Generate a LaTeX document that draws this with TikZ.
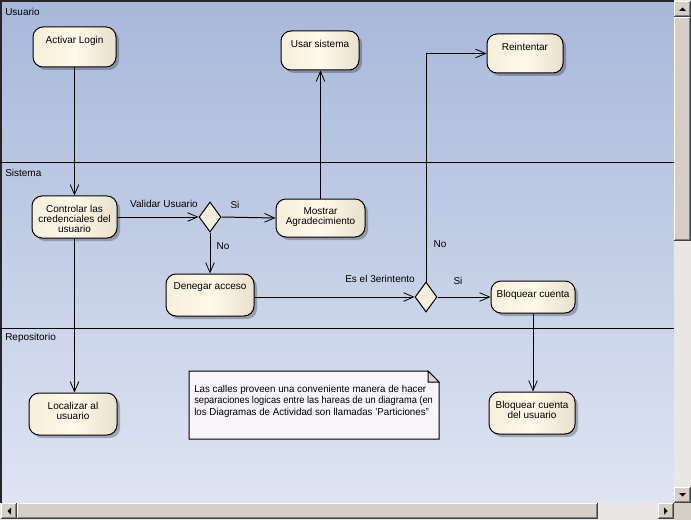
\documentclass[tikz,border=0pt]{standalone}
\usepackage{fontspec}
\setmainfont{Liberation Sans}
\usetikzlibrary{arrows.meta,shapes.geometric,shadows,fit}
\definecolor{bgtop}{HTML}{A8B8DA}
\definecolor{bgbot}{HTML}{DEE4F2}
\definecolor{actL}{HTML}{F7EFDB}
\definecolor{actM}{HTML}{FFF9EB}
\definecolor{actR}{HTML}{E9E0CC}
\definecolor{decf}{HTML}{F4EEDF}
\definecolor{notef}{HTML}{F7F5FA}
\definecolor{foldf}{HTML}{D9D6DC}
\definecolor{sbgray}{HTML}{D4D0C8}
\definecolor{sbhatch}{HTML}{E9E7E3}
\definecolor{sbdark}{HTML}{404040}
\definecolor{sbmid}{HTML}{808080}
\tikzset{
 act/.style={draw=black, line width=0.75pt, rounded corners=7.5pt, left color=actL, right color=actR, middle color=actM, inner sep=0pt,
   drop shadow={shadow xshift=2.25pt, shadow yshift=-2.25pt, fill=black, opacity=0.25}},
 acttext/.style={anchor=north, inner sep=0pt, align=center, font=\fontsize{7.5}{7.6}\selectfont},
 dec/.style={diamond, draw=black, line width=0.75pt, fill=decf, inner sep=0pt, minimum width=16.5pt, minimum height=22.5pt},
 flow/.style={draw=black, line width=0.75pt, -{Straight Barb[length=7.5pt,width=6.5pt,line width=0.6pt]}},
 lbl/.style={inner sep=0pt, font=\fontsize{7.5}{8}\selectfont},
 lane/.style={draw=black, line width=0.75pt},
}
\begin{document}
\begin{tikzpicture}[x=0.75pt,y=-0.75pt]
\useasboundingbox (0,0) rectangle (691,520);
% background
\shade[top color=bgtop, bottom color=bgbot] (0,0) rectangle (674,503);
\draw[line width=1.1pt, draw=black!85] (1,503) -- (1,1) -- (674,1);
% lanes
\draw[lane] (0,162.5) -- (674,162.5);
\draw[lane] (0,328) -- (674,328);
\node[lbl, anchor=west] (lu) at (5,12) {Usuario};
\node[lbl, anchor=west] (ls) at (5,173) {Sistema};
\node[lbl, anchor=west] (lr) at (5,338) {Repositorio};
% activities
\node[act, fit={(33,27) (116,67)}] (A) {};
\node[act, fit={(32,196) (117,238)}] (C) {};
\node[act, fit={(281,31) (359,70)}] (U) {};
\node[act, fit={(276,199) (365,237)}] (M) {};
\node[act, fit={(487,34) (563,73)}] (R) {};
\node[act, fit={(166,274) (254,316)}] (D) {};
\node[act, fit={(491,281) (575,313)}] (B) {};
\node[act, fit={(489,392) (575,434)}] (BU) {};
\node[act, fit={(29,393) (117,435)}] (L) {};
\node[acttext] (At) at ([yshift=-6.75pt]A.north) {Activar Login};
\node[acttext] (Ct) at ([yshift=-6.75pt]C.north) {Controlar las\\credenciales del\\usuario};
\node[acttext] (Ut) at ([yshift=-6.75pt]U.north) {Usar sistema};
\node[acttext] (Mt) at ([yshift=-6.75pt]M.north) {Mostrar\\Agradecimiento};
\node[acttext] (Rt) at ([yshift=-6.75pt]R.north) {Reintentar};
\node[acttext] (Dt) at ([yshift=-6.75pt]D.north) {Denegar acceso};
\node[acttext] (Bt) at ([yshift=-6.75pt]B.north) {Bloquear cuenta};
\node[acttext] (BUt) at ([yshift=-6.75pt]BU.north) {Bloquear cuenta\\del usuario};
\node[acttext] (Lt) at ([yshift=-6.75pt]L.north) {Localizar al\\usuario};
% decisions
\node[dec] (d1) at (210,217) {};
\node[dec] (d2) at (426,297) {};
% flows
\draw[flow] (A.south) -- (C.north);
\draw[flow] (C.south) -- (C.south |- L.north);
\draw[flow] (C.east) -- (d1.west);
\draw[flow] (d1.east) -- (M.west);
\draw[flow] (d1.south) -- (d1.south |- D.north);
\draw[flow] (M.north) -- (M.north |- U.south);
\draw[flow] (d2.west -| D.east) -- (d2.west);
\draw[flow] (d2.east) -- (B.west);
\draw[flow] (d2.north) |- (R.west);
\draw[flow] (B.south) -- (B.south |- BU.north);
% flow labels
\node[lbl] (v1) at (164,204) {Validar Usuario};
\node[lbl] (s1) at (235,205) {Si};
\node[lbl] (n1) at (223,246) {No};
\node[lbl] (n2) at (440,244) {No};
\node[lbl] (e2) at (380,279) {Es el 3erintento};
\node[lbl] (s2) at (458,281) {Si};
% note
\draw[line width=0.75pt, fill=notef] (189,371) -- (428,371) -- (439,382) -- (439,439) -- (189,439) -- cycle;
\draw[line width=0.75pt, fill=foldf] (428,371) -- (439,382) -- (428,382) -- cycle;
\node[anchor=north west, inner sep=0pt, align=left, font=\fontsize{7.5}{8.8}\selectfont] (nt) at (194,384.5)
 {\resizebox{174pt}{\height}{Las calles proveen una conveniente manera de hacer}\\
  \resizebox{179pt}{\height}{separaciones logicas entre las hareas de un diagrama (en}\\
  \resizebox{176pt}{\height}{los Diagramas de Actividad son llamadas 'Particiones"}};
% scrollbars
\fill[sbhatch] (674,0) rectangle (691,503);
\fill[sbhatch] (0,503) rectangle (674,520);
\fill[sbgray] (674,503) rectangle (691,520);
\foreach \xa/\ya/\xb/\yb in {674/1/691/17, 674/17/691/241, 674/487/691/503, 1/503/17/519, 17/503/598/519, 658/503/674/519}{
  \fill[sbgray] (\xa,\ya) rectangle (\xb,\yb);
  \draw[white, line width=0.75pt] (\xa+0.5,\yb-1) -- (\xa+0.5,\ya+0.5) -- (\xb-1,\ya+0.5);
  \draw[sbdark, line width=0.75pt] (\xa,\yb-0.5) -- (\xb-0.5,\yb-0.5) -- (\xb-0.5,\ya);
  \draw[sbmid, line width=0.75pt] (\xa+1,\yb-1.5) -- (\xb-1.5,\yb-1.5) -- (\xb-1.5,\ya+1);
}
\fill[black] (679,11) -- (686,11) -- (682.5,7.5) -- cycle;
\fill[black] (679,493) -- (686,493) -- (682.5,496.5) -- cycle;
\fill[black] (11,507.5) -- (11,514.5) -- (7.5,511) -- cycle;
\fill[black] (664,507.5) -- (664,514.5) -- (667.5,511) -- cycle;
\end{tikzpicture}
\end{document}
